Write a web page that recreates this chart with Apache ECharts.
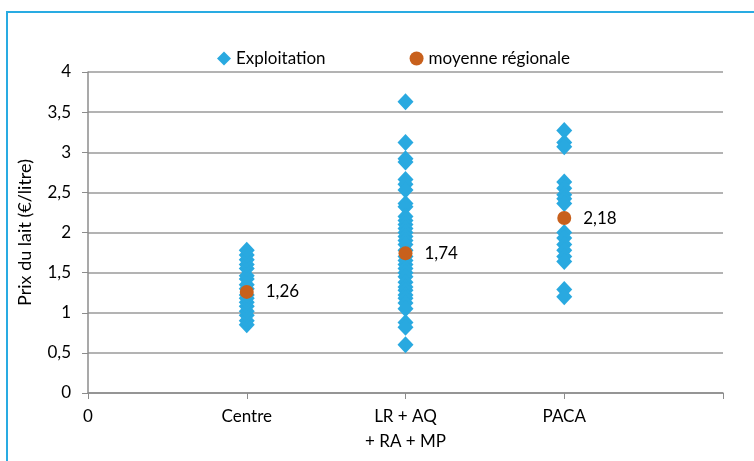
<!DOCTYPE html>
<html>
<head>
<meta charset="utf-8">
<script src="https://cdn.jsdelivr.net/npm/echarts@6/dist/echarts.min.js"></script>
<style>
  html, body { margin: 0; padding: 0; background: #fff; }
  #chart { width: 754px; height: 461px; }
</style>
</head>
<body>
<div id="chart"></div>
<script>
// noms des régions (positions 1, 2, 3 sur l'axe x)
var regions = ['Centre', 'LR + AQ\n+ RA + MP', 'PACA'];

// prix du lait par exploitation
var centre = [0.85, 0.9, 0.97, 1.02, 1.08, 1.13, 1.18, 1.22, 1.3, 1.35, 1.42, 1.46, 1.55, 1.6, 1.66, 1.72, 1.78];
var lraq = [3.63, 3.12, 2.92, 2.88, 2.66, 2.6, 2.53, 2.36, 2.32, 2.2, 2.15, 2.1, 2.05, 2.0, 1.95, 1.9, 1.85,
    1.78, 1.7, 1.65, 1.6, 1.55, 1.5, 1.45, 1.38, 1.32, 1.28, 1.22, 1.18, 1.12, 1.05, 0.88, 0.82, 0.6];
var paca = [3.27, 3.12, 3.07, 2.63, 2.55, 2.47, 2.42, 2.36, 2.0, 1.93, 1.85, 1.78, 1.7, 1.64, 1.29, 1.2];

// moyennes régionales
var moyennes = [1.26, 1.74, 2.18];

function fmt(v) {
    return String(v).replace('.', ',');
}

var exploitData = [];
[centre, lraq, paca].forEach(function (arr, i) {
    arr.forEach(function (v) { exploitData.push([i + 1, v]); });
});
var moyData = moyennes.map(function (v, i) { return [i + 1, v]; });

var font = 'Lato';
var myChart = echarts.init(document.getElementById('chart'));

var option = {
    animation: false,
    textStyle: { fontFamily: font },
    graphic: [{
        type: 'rect',
        shape: { x: 7, y: 12, width: 820, height: 520 },
        style: { fill: 'none', stroke: '#29abe2', lineWidth: 2 }
    }],
    legend: {
        top: 45,
        left: 212,
        itemGap: 84,
        itemWidth: 14,
        itemHeight: 14,
        textStyle: { fontFamily: font, fontSize: 17, color: '#000' },
        data: [
            { name: 'Exploitation', icon: 'diamond' },
            { name: 'moyenne régionale', icon: 'circle' }
        ]
    },
    grid: { left: 88, right: 31, top: 72, bottom: 68 },
    xAxis: {
        type: 'value',
        min: 0,
        max: 4,
        interval: 1,
        splitLine: { show: false },
        axisLine: { lineStyle: { color: '#8c8c8c', width: 1.5 } },
        axisTick: { show: true, length: 6, lineStyle: { color: '#8c8c8c' } },
        axisLabel: {
            color: '#000',
            fontSize: 17,
            margin: 11,
            lineHeight: 25,
            formatter: function (v) {
                if (v === 0) return '0';
                return regions[v - 1] || '';
            }
        }
    },
    yAxis: {
        type: 'value',
        min: 0,
        max: 4,
        interval: 0.5,
        name: 'Prix du lait (€/litre)',
        nameLocation: 'middle',
        nameGap: 54,
        nameTextStyle: { fontFamily: font, fontSize: 18, color: '#000' },
        axisLine: { show: true, lineStyle: { color: '#8c8c8c', width: 1.5 } },
        axisTick: { show: true, length: 6, lineStyle: { color: '#8c8c8c' } },
        splitLine: { lineStyle: { color: '#9a9a9a', width: 1.5 } },
        axisLabel: {
            color: '#000',
            fontSize: 17,
            margin: 17,
            formatter: function (v) { return fmt(v); }
        }
    },
    series: [
        {
            name: 'Exploitation',
            type: 'scatter',
            symbol: 'diamond',
            symbolSize: [16, 17],
            itemStyle: { color: '#29a9e0', opacity: 1 },
            data: exploitData
        },
        {
            name: 'moyenne régionale',
            type: 'scatter',
            symbol: 'circle',
            symbolSize: 14,
            itemStyle: { color: '#c8601c', opacity: 1 },
            label: {
                show: true,
                position: 'right',
                distance: 12,
                color: '#000',
                fontSize: 17,
                formatter: function (p) { return fmt(p.value[1]); }
            },
            data: moyData
        }
    ]
};
myChart.setOption(option);
</script>
</body>
</html>
